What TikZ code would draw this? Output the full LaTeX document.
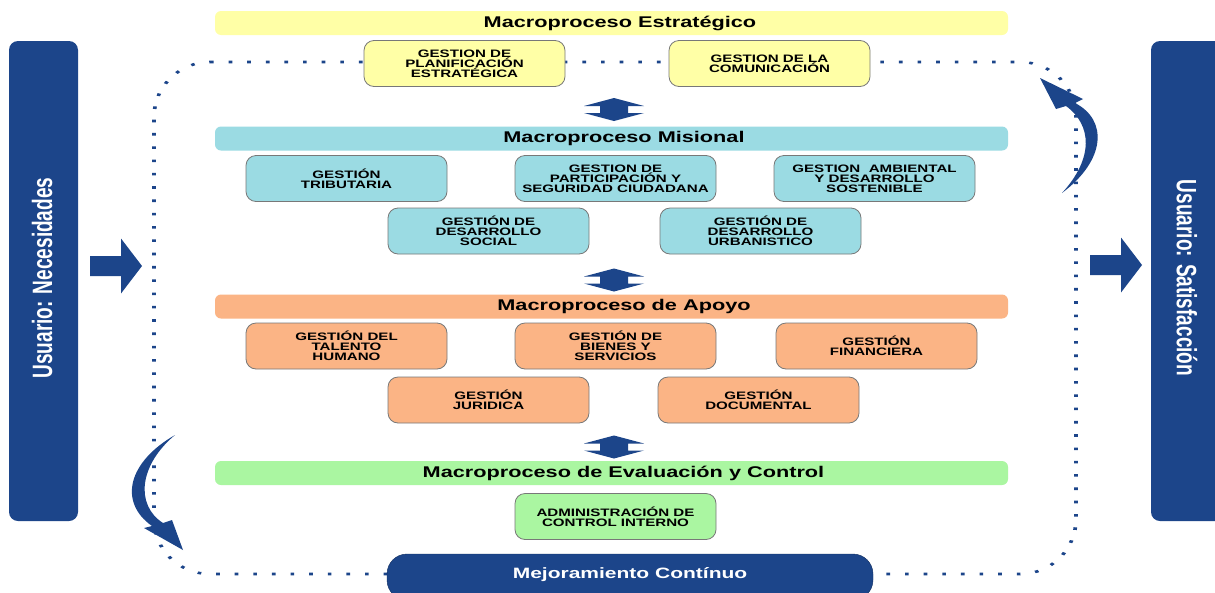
\documentclass[tikz,border=0pt]{standalone}
\usepackage{fontspec}
\setmainfont[FakeStretch=1.4]{Liberation Sans}
\newfontfamily\vfont[FakeStretch=0.68]{Liberation Sans Bold}
\definecolor{ublue}{RGB}{28,69,138}
\definecolor{cyel}{RGB}{255,255,166}
\definecolor{ccyan}{RGB}{155,219,227}
\definecolor{corange}{RGB}{251,180,133}
\definecolor{cgreen}{RGB}{170,246,161}
\definecolor{bgray}{RGB}{120,120,120}
\tikzset{
  band/.style={fill=#1, draw=none, rounded corners=6pt, minimum width=793pt, minimum height=24pt, inner sep=0pt},
  bandtitle/.style={font=\fontsize{15.5}{16}\selectfont\bfseries, inner sep=0pt},
  pbox/.style={draw=bgray, fill=#1, rounded corners=10pt, line width=0.8pt, minimum width=201pt, minimum height=46pt, align=center, inner sep=0pt, font=\fontsize{10.8}{10}\selectfont\bfseries},
  ubar/.style={fill=ublue, rounded corners=9pt},
  utext/.style={text=white, font=\vfont\fontsize{28}{28}\selectfont, inner sep=0pt},
  loop/.style={draw=ublue, line width=2.6pt, dash pattern=on 2.6pt off 10.7pt},
  pics/dblarrow/.style={code={\fill[ublue] (0,-11.5) -- (30,-3.5) -- (14,-3.5) -- (14,3.5) -- (30,3.5) -- (0,11.5) -- (-30,3.5) -- (-14,3.5) -- (-14,-3.5) -- (-30,-3.5) -- cycle;}},
  pics/rarrow/.style={code={\fill[ublue] (0,0) -- (-21,-27.5) -- (-21,-10) -- (-52,-10) -- (-52,10) -- (-21,10) -- (-21,27.5) -- cycle;}}
}
\begin{document}
\begin{tikzpicture}[x=1pt,y=-1pt]
\useasboundingbox (0,0) rectangle (1215,592);
\clip (0,0) rectangle (1215,592);
\fill[white] (0,0) rectangle (1215,592);

% user bars
\fill[ubar] (9,41) rectangle (78,521);
\fill[ubar] (1151,41) rectangle (1230,521);
\node[utext, rotate=90] (uN) at (42,278) {Usuario: Necesidades};
\node[utext, rotate=-90] (uS) at (1187,278) {Usuario: Satisfacción};
\pic at (142,266) {rarrow};
\pic at (1142,265) {rarrow};

% dotted improvement loop (drawn in a horizontally stretched canvas)
\begin{scope}[transform canvas={xscale=1.4}]
\draw[loop] (150,62) -- (728.6,62) .. controls (750.7,62) and (768.6,86.6) .. (768.6,117)
  -- (768.6,519) .. controls (768.6,549.6) and (750.7,574) .. (728.6,574)
  -- (150,574) .. controls (127.9,574) and (110,549.6) .. (110,519)
  -- (110,117) .. controls (110,86.6) and (127.9,62) .. (150,62) -- cycle;
\end{scope}

% curved arrows
\fill[ublue] (1062,193) .. controls (1106,160) and (1108,120) .. (1075,103) -- (1083,99) -- (1040,78) -- (1056,109) -- (1066,106) .. controls (1092,125) and (1094,158) .. (1062,193) -- cycle;
\fill[ublue] (175,435) .. controls (128,462) and (118,502) .. (152,526) -- (144,528) -- (183,550) -- (172,520) -- (163,523) .. controls (135,505) and (139,465) .. (175,435) -- cycle;

% Estrategico
\node[band=cyel] (bE) at (611.5,23) {};
\node[bandtitle] (tE) at (620,23) {Macroproceso Estratégico};
\node[pbox=cyel] (plan) at (464.5,63.5) {GESTION DE\\PLANIFICACIÓN\\ESTRATÉGICA};
\node[pbox=cyel] (com) at (769.5,63.5) {GESTION DE LA\\COMUNICACIÓN};
\pic at (614,109.5) {dblarrow};

% Misional
\node[band=ccyan] (bM) at (611.5,138.5) {};
\node[bandtitle] (tM) at (624,138.5) {Macroproceso Misional};
\node[pbox=ccyan] (trib) at (346.5,178.5) {GESTIÓN\\TRIBUTARIA};
\node[pbox=ccyan] (part) at (615.5,178.5) {GESTION DE\\PARTICIPACIÓN Y\\SEGURIDAD CIUDADANA};
\node[pbox=ccyan] (amb) at (874.5,178.5) {GESTION~ AMBIENTAL\\Y DESARROLLO\\SOSTENIBLE};
\node[pbox=ccyan] (soc) at (488.5,231) {GESTIÓN DE\\DESARROLLO\\SOCIAL};
\node[pbox=ccyan] (urb) at (760.5,231) {GESTIÓN DE\\DESARROLLO\\URBANISTICO};
\pic at (614,280) {dblarrow};

% Apoyo
\node[band=corange] (bA) at (611.5,306.5) {};
\node[bandtitle] (tA) at (624,306.5) {Macroproceso de Apoyo};
\node[pbox=corange] (tal) at (346.5,346) {GESTIÓN DEL\\TALENTO\\HUMANO};
\node[pbox=corange] (bien) at (615.5,346) {GESTIÓN DE\\BIENES Y\\SERVICIOS};
\node[pbox=corange] (fin) at (876.5,346) {GESTIÓN\\FINANCIERA};
\node[pbox=corange] (jur) at (488.5,400) {GESTIÓN\\JURIDICA};
\node[pbox=corange] (doc) at (758.5,400) {GESTIÓN\\DOCUMENTAL};
\pic at (614,447) {dblarrow};

% Evaluacion y control
\node[band=cgreen] (bC) at (611.5,473) {};
\node[bandtitle] (tC) at (623.5,473) {Macroproceso de Evaluación y Control};
\node[pbox=cgreen] (ctrl) at (615.5,516.5) {ADMINISTRACIÓN DE\\CONTROL INTERNO};

% Mejoramiento continuo
\node[fill=ublue, draw=ublue!70!black, rounded corners=20pt, minimum width=486pt, minimum height=46pt, inner sep=0pt] (mej) at (630,577) {};
\node[text=white, font=\fontsize{15}{16}\selectfont\bfseries, inner sep=0pt] (mejt) at (630,575) {Mejoramiento Contínuo};
\end{tikzpicture}
\end{document}
